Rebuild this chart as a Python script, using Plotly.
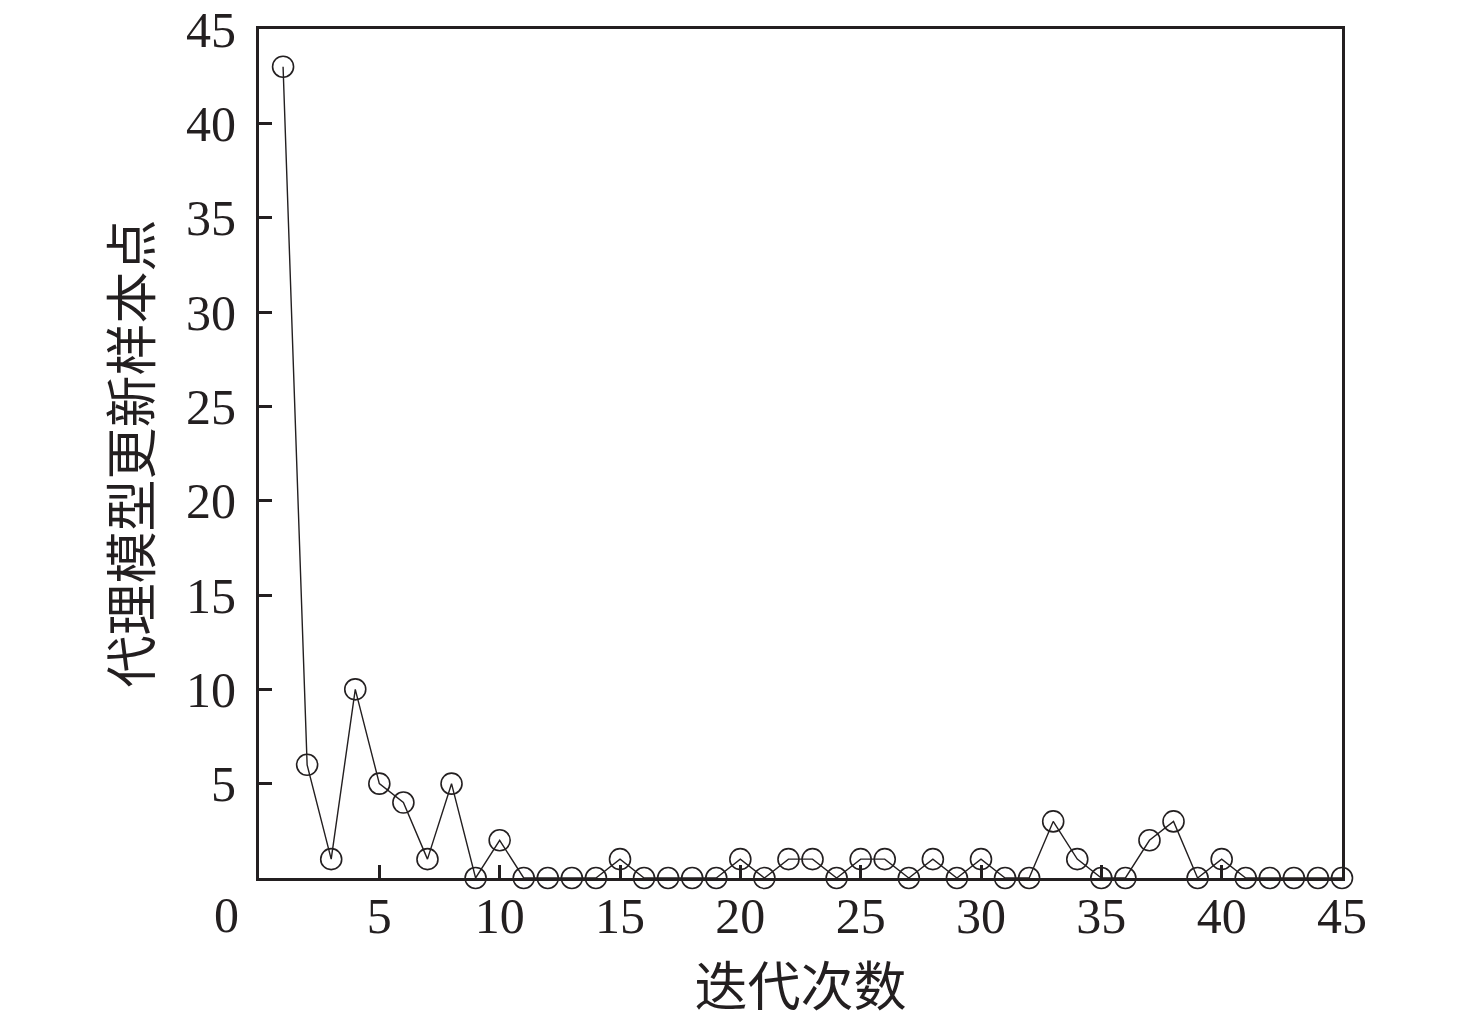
import plotly.graph_objects as go

# iteration index and number of new sample points per iteration
iterations = list(range(1, 46))
new_points = [43, 6, 1, 10, 5, 4, 1, 5, 0, 2,
              0, 0, 0, 0, 1, 0, 0, 0, 0, 1,
              0, 1, 1, 0, 1, 1, 0, 1, 0, 1,
              0, 0, 3, 1, 0, 0, 2, 3, 0, 1,
              0, 0, 0, 0, 0]

x_ticks = [5, 10, 15, 20, 25, 30, 35, 40, 45]
y_ticks = [5, 10, 15, 20, 25, 30, 35, 40, 45]

font_family = "Liberation Serif, Times New Roman, Noto Sans CJK SC, serif"
ink = "#231f20"

fig = go.Figure()
fig.add_trace(
    go.Scatter(
        x=iterations,
        y=new_points,
        mode="lines+markers",
        line=dict(color=ink, width=1.4),
        marker=dict(symbol="circle-open", size=21, color=ink, line=dict(width=1.6)),
        cliponaxis=False,
        showlegend=False,
    )
)

axis_common = dict(
    showgrid=False,
    zeroline=False,
    showline=True,
    linecolor=ink,
    linewidth=3,
    mirror=True,
    ticks="inside",
    ticklen=13,
    tickwidth=3,
    tickcolor=ink,
    automargin=False,
    ticklabeloverflow="allow",
    tickfont=dict(family=font_family, size=50, color=ink),
)

fig.update_xaxes(
    range=[0, 45],
    tickmode="array",
    tickvals=x_ticks,
    ticktext=[str(v) for v in x_ticks],
    ticklabelstandoff=-8,
    title=dict(text="迭代次数", font=dict(family=font_family, size=53, color=ink), standoff=26),
    **axis_common,
)
fig.update_yaxes(
    range=[0, 45],
    tickmode="array",
    tickvals=y_ticks,
    ticktext=[str(v) for v in y_ticks],
    ticklabelstandoff=10,
    title=dict(text="代理模型更新样本点", font=dict(family=font_family, size=52, color=ink), standoff=18),
    **axis_common,
)

# shared origin label
fig.add_annotation(
    x=0, y=0, xref="x", yref="y",
    text="0", showarrow=False,
    xanchor="right", yanchor="top",
    xshift=-18, yshift=-7,
    font=dict(family=font_family, size=50, color=ink),
)

fig.update_layout(
    width=1476,
    height=1017,
    plot_bgcolor="white",
    paper_bgcolor="white",
    margin=dict(l=251, r=142, t=21, b=147),
)

fig.write_html("out.html")
